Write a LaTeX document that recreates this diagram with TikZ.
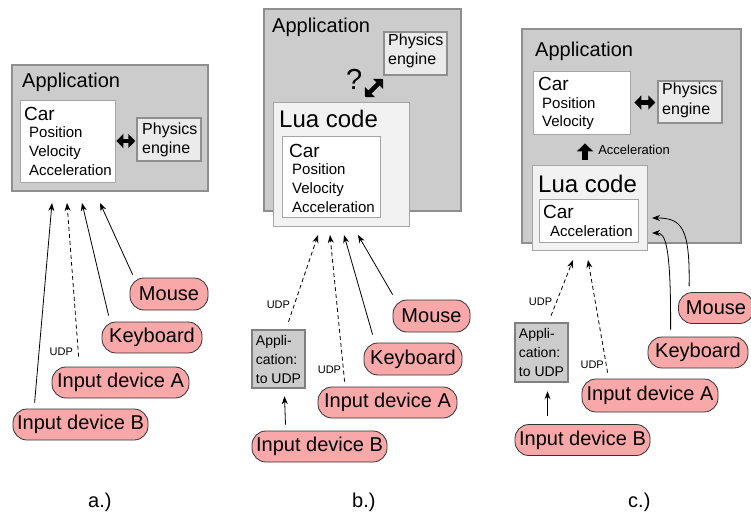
\documentclass[tikz,border=0pt]{standalone}
\usepackage{fontspec}
\setmainfont{Liberation Sans}
\usetikzlibrary{arrows.meta}
\newcommand{\fsz}[1]{\fontsize{#1}{#1}\selectfont}
\definecolor{appgray}{HTML}{CCCCCC}
\definecolor{edgegray}{HTML}{8F8F8F}
\definecolor{physgray}{HTML}{EBEBEB}
\definecolor{luagray}{HTML}{F2F2F2}
\definecolor{devpink}{HTML}{F8A8A8}

\begin{document}
\begin{tikzpicture}[x=1pt, y=-1pt,
        plainbox/.style={draw, rectangle, inner sep=0pt},
        appbox/.style={plainbox, draw=edgegray, fill=appgray, line width=1.2pt},
        physbox/.style={plainbox, draw=edgegray, fill=physgray, line width=1.5pt},
        luabox/.style={plainbox, draw=edgegray!80, fill=luagray, line width=1pt},
        carbox/.style={plainbox, draw=edgegray!80, fill=white, line width=0.8pt},
        udpbox/.style={plainbox, draw=gray, fill=appgray, line width=2.5pt, align=left, font=\fontsize{14}{19}\selectfont},
        dev/.style={draw=black!80, fill=devpink, rounded corners=14pt, inner sep=0pt, line width=0.8pt, font=\fsz{20}},
        txt/.style={anchor=base west, inner sep=0pt},
        udplbl/.style={inner sep=0pt, font=\fsz{11}},
        arr/.style={-{Stealth[length=8pt,width=6pt]}, line width=0.8pt},
        udplink/.style={arr, dash pattern=on 4pt off 3pt},
        dblarr/.style={line width=4.5pt, {Triangle[length=7pt,width=14pt]}-{Triangle[length=7pt,width=14pt]}},
        uparr/.style={line width=6.5pt, -{Triangle[length=8pt,width=16pt]}}]
    \path[use as bounding box, fill=white] (0,0) rectangle (751,516);

    % a.)
    \node[appbox, minimum width=196pt, minimum height=126pt] (appA) at (110,128) {};
    \node[txt, font=\fsz{20}] (appAt) at (22,88) {Application};
    \node[carbox, minimum width=95pt, minimum height=82pt] (carA) at (67.5,141) {};
    \node[txt, font=\fsz{19}] (carAt) at (24,121) {Car};
    \node[txt, font=\fsz{15}] (posA) at (29,137) {Position};
    \node[txt, font=\fsz{15}] (velA) at (29,156) {Velocity};
    \node[txt, font=\fsz{15}] (accA) at (29,175) {Acceleration};
    \node[physbox, minimum width=64pt, minimum height=43pt] (physA) at (169,139.5) {};
    \node[txt, font=\fsz{16}] (physAt) at (142,134) {Physics};
    \node[txt, font=\fsz{16}] (engAt) at (142,153) {engine};
    \draw[dblarr, shorten <=1pt, shorten >=1pt] (carA.east) -- (carA.east -| physA.west);

    \node[dev, minimum width=78pt, minimum height=32pt]  (mouseA) at (169,294)     {Mouse};
    \node[dev, minimum width=100pt, minimum height=31pt] (kbA)    at (152,337.5)   {Keyboard};
    \node[dev, minimum width=137pt, minimum height=31pt] (devAa)  at (120.5,382.5) {Input device A};
    \node[dev, minimum width=135pt, minimum height=31pt] (devBa)  at (80.5,424.5)  {Input device B};

    \coordinate (tA1) at (52,203);
    \coordinate (tA2) at (67,203);
    \coordinate (tA3) at (82,203);
    \coordinate (tA4) at (100,203);
    \draw[arr] ([xshift=22pt,yshift=6pt]devBa.north west) -- (tA1);
    \draw[udplink] ([xshift=27pt,yshift=10pt]devAa.north west) -- node[udplbl, pos=0.03, left=5pt] (udpA) {UDP} (tA2);
    \draw[arr] ([xshift=7pt,yshift=6pt]kbA.north west) -- (tA3);
    \draw[arr] ([xshift=3pt,yshift=3pt]mouseA.north west) -- (tA4);
    \node[txt, font=\fsz{20}] (labA) at (88,507) {a.)};

    % b.)
    \node[appbox, minimum width=197pt, minimum height=202pt] (appB) at (362.5,110) {};
    \node[txt, font=\fsz{20}] (appBt) at (272,33) {Application};
    \node[physbox, minimum width=63pt, minimum height=43pt] (physB) at (415.5,53.5) {};
    \node[txt, font=\fsz{16}] (physBt) at (388,46) {Physics};
    \node[txt, font=\fsz{16}] (engBt) at (388,65) {engine};
    \node[txt, font=\fsz{29}] (qB) at (346,90) {?};
    \coordinate (dB1) at (365,97);
    \coordinate (dB2) at (383,79);
    \draw[dblarr] (dB1) -- (dB2);
    \node[luabox, minimum width=136pt, minimum height=123pt] (luaB) at (341,164.5) {};
    \node[txt, font=\fsz{24}] (luaBt) at (279,128) {Lua code};
    \node[carbox, minimum width=98pt, minimum height=81pt] (carB) at (331,176.5) {};
    \node[txt, font=\fsz{19}] (carBt) at (289,157) {Car};
    \node[txt, font=\fsz{15}] (posB) at (292,174) {Position};
    \node[txt, font=\fsz{15}] (velB) at (292,193) {Velocity};
    \node[txt, font=\fsz{15}] (accB) at (292,212) {Acceleration};

    \node[udpbox, minimum width=53pt, minimum height=58pt] (utB) at (278.5,359) {Appli-\\cation:\\to UDP};
    \node[dev, minimum width=77pt, minimum height=32pt]  (mouseB) at (431.5,316)   {Mouse};
    \node[dev, minimum width=98pt, minimum height=32pt]  (kbB)    at (413,359)     {Keyboard};
    \node[dev, minimum width=139pt, minimum height=31pt] (devAb)  at (387.5,402.5) {Input device A};
    \node[dev, minimum width=135pt, minimum height=31pt] (devBb)  at (319.5,446.5) {Input device B};

    \coordinate (tB1) at (318,235);
    \coordinate (tB2) at (330,235);
    \coordinate (tB3) at (344,235);
    \coordinate (tB4) at (358,235);
    \draw[udplink] ([xshift=10pt,yshift=7pt]utB.north) -- node[udplbl, pos=0.2, left=4pt] (udpB1) {UDP} (tB1);
    \draw[udplink] ([xshift=27pt,yshift=5pt]devAb.north west) -- node[udplbl, pos=0.08, left=2pt] (udpB2) {UDP} (tB2);
    \draw[arr] ([xshift=9pt,yshift=8pt]kbB.north west) -- (tB3);
    \draw[arr] ([yshift=5pt]mouseB.north west) -- (tB4);
    \draw[arr] ([xshift=-34pt,yshift=6pt]devBb.north) -- ([xshift=6pt,yshift=-7pt]utB.south);
    \node[txt, font=\fsz{20}] (labB) at (352,507) {b.)};

    % c.)
    \node[appbox, minimum width=219pt, minimum height=214pt] (appC) at (631.5,136) {};
    \node[txt, font=\fsz{20}] (appCt) at (535,57) {Application};
    \node[carbox, minimum width=97pt, minimum height=63pt] (carC) at (581.5,102.5) {};
    \node[txt, font=\fsz{19}] (carCt) at (538,91) {Car};
    \node[txt, font=\fsz{15}] (posC) at (542,108) {Position};
    \node[txt, font=\fsz{15}] (velC) at (542,126) {Velocity};
    \node[physbox, minimum width=64pt, minimum height=42pt] (physC) at (690,102) {};
    \node[txt, font=\fsz{16}] (physCt) at (662,95) {Physics};
    \node[txt, font=\fsz{16}] (engCt) at (662,114) {engine};
    \draw[dblarr, shorten <=4pt, shorten >=2pt] (carC.east) -- (carC.east -| physC.west);
    \node[luabox, minimum width=115pt, minimum height=85pt] (luaC) at (589.5,207.5) {};
    \node[txt, font=\fsz{24}] (luaCt) at (538,192) {Lua code};
    \node[carbox, minimum width=99pt, minimum height=43pt] (carC2) at (588.5,220.5) {};
    \node[txt, font=\fsz{19}] (carC2t) at (543,218) {Car};
    \node[txt, font=\fsz{15}] (accC) at (550,236) {Acceleration};
    \draw[uparr, shorten <=5pt, shorten >=9pt] ([xshift=-4.5pt]luaC.north) -- ([xshift=-4.5pt]luaC.north |- carC.south)
        node[midway, right=10pt, inner sep=0pt, font=\fsz{13}] (accCl) {Acceleration};

    \node[udpbox, minimum width=53pt, minimum height=59pt] (utC) at (541.5,352.5) {Appli-\\cation:\\to UDP};
    \node[dev, minimum width=75pt, minimum height=31pt]  (mouseC) at (716,308)   {Mouse};
    \node[dev, minimum width=100pt, minimum height=31pt] (kbC)    at (698,352.5) {Keyboard};
    \node[dev, minimum width=136pt, minimum height=33pt] (devAc)  at (650,395.5) {Input device A};
    \node[dev, minimum width=135pt, minimum height=31pt] (devBc)  at (582.5,440) {Input device B};

    \coordinate (tC1) at (573,260);
    \coordinate (tC2) at (588,260);
    \coordinate (tC3) at (652,218);
    \coordinate (tC4) at (652,233);
    \draw[udplink] ([xshift=9.5pt,yshift=6pt]utC.north) -- node[udplbl, pos=0.25, left=4pt] (udpC1) {UDP} (tC1);
    \draw[udplink] ([xshift=26pt,yshift=6pt]devAc.north west) -- node[udplbl, pos=0.07, left=2pt] (udpC2) {UDP} (tC2);
    \draw[arr] ([xshift=-35pt,yshift=8pt]devBc.north) -- ([xshift=6pt,yshift=-8pt]utC.south);
    \draw[arr] ([xshift=11pt,yshift=6pt]mouseC.north west) .. controls (690,228) and (682,218) .. (tC3);
    \draw[arr] ([xshift=23pt,yshift=7pt]kbC.north west) .. controls (671,243) and (665,233) .. (tC4);
    \node[txt, font=\fsz{20}] (labC) at (628,507) {c.)};
\end{tikzpicture}
\end{document}
